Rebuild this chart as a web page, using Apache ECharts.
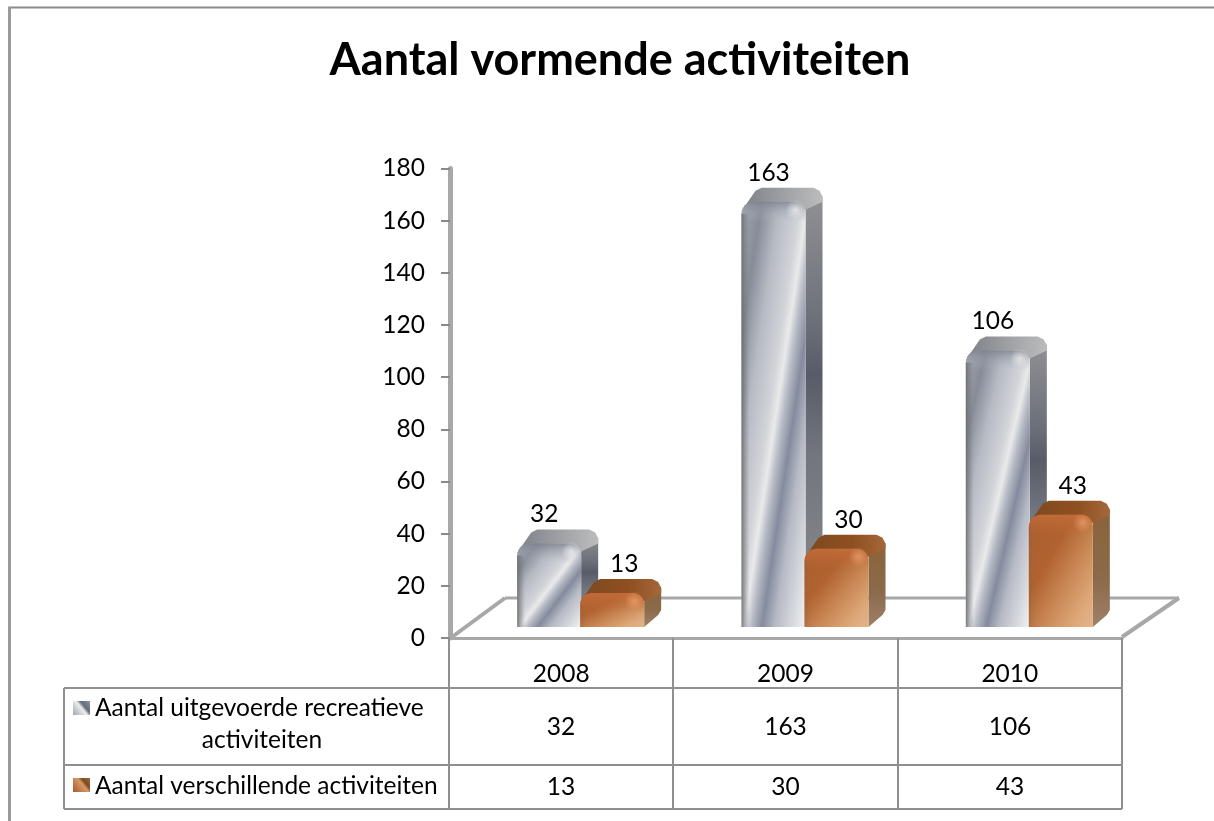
<!DOCTYPE html>
<html>
<head>
<meta charset="utf-8">
<style>
  html, body { margin: 0; padding: 0; background: #fff; }
  #chart { width: 1214px; height: 821px; }
</style>
<script src="https://cdn.jsdelivr.net/npm/echarts@6/dist/echarts.min.js"></script>
</head>
<body>
<div id="chart"></div>
<script>
const chartTitle = 'Aantal vormende activiteiten';
const years = ['2008', '2009', '2010'];
const yTicks = [0, 20, 40, 60, 80, 100, 120, 140, 160, 180];
const recreatief = [32, 163, 106];
const verschillend = [13, 30, 43];
const recreatiefName = ['Aantal uitgevoerde recreatieve', 'activiteiten'];
const verschillendName = 'Aantal verschillende activiteiten';

const FONT = 'Lato, Carlito, sans-serif';
const TEXT_SIZE = 24.5;
const LINE = '#8f8f8f';
const AXIS = '#a8a8a8';
const { LinearGradient, RadialGradient } = echarts.graphic;

const grid = { left: 449, right: 1122, top: 168.5, bottom: 638 };
const table = { left: 64, row0: 688, row1: 765, row2: 809, cols: [449, 673, 898, 1122] };

const steel = {
  front: [
    [0, '#a4a8b2'], [0.16, '#878c99'], [0.3, '#b6bac3'], [0.46, '#d2d4d9'], [0.52, '#e9eaea'],
    [0.58, '#b6bac4'], [0.66, '#858b9e'], [0.76, '#b6bac5'], [0.9, '#d8dadf'], [1, '#f2f2f3'],
  ],
  side: [[0, '#929294'], [0.3, '#6c707a'], [0.42, '#575c68'], [0.6, '#72757e'], [1, '#8c8c8e']],
  top: ['#7d8088', '#a3a5a8', '#bcbcbc'],
  bevel: ['rgba(125,130,142,0.8)', 'rgba(180,185,196,0)'],
  edge: 'rgba(105,105,107,0.85)',
  spot: 'rgba(255,255,255,0.6)',
};
const copper = {
  front: [
    [0, '#ac5e2e'], [0.35, '#b0622f'], [0.6, '#c98755'], [0.85, '#dfa97a'], [1, '#e2b48c'],
  ],
  side: [[0, '#8a6238'], [0.6, '#8b6a4a'], [1, '#a08068']],
  top: ['#7b4a20', '#8f4f20', '#a4683a'],
  bevel: ['rgba(196,108,58,0.85)', 'rgba(190,105,55,0)'],
  edge: 'rgba(160,85,40,0.3)',
  spot: 'rgba(245,170,120,0.6)',
};

// front face outline: rounded on top, square at the foot
function faceOutline(x0, x1, yt, yb, r) {
  const pts = [[x0, yb]];
  for (let a = 0; a <= 6; a++) {
    const t = (a / 6) * Math.PI / 2;
    pts.push([x0 + r - r * Math.cos(t), yt + r - r * Math.sin(t)]);
  }
  for (let a = 6; a >= 0; a--) {
    const t = (a / 6) * Math.PI / 2;
    pts.push([x1 - r + r * Math.cos(t), yt + r - r * Math.sin(t)]);
  }
  pts.push([x1, yb]);
  return pts;
}

function barRenderer(look, centerShift, labelShift) {
  return function (params, api) {
    const idx = api.value(0);
    const val = api.value(1);
    const [cx, yVal] = api.coord([idx, val]);
    const [, yZero] = api.coord([idx, 0]);
    const halfW = 32;
    const depthX = 17;
    const depthY = 14;
    const x0 = cx + centerShift - halfW;
    const x1 = cx + centerShift + halfW;
    const yb = yZero - 11;
    const yt = yVal - 11;
    const yBack = yt - depthY;
    const w = x1 - x0;
    const h = yb - yt;
    const len = Math.sqrt(w * w + h * h);
    const nx = h / len;
    const ny = w / len;
    const ext = w * h / len;
    const mx = (x0 + x1) / 2;
    const my = (yt + yb) / 2;
    const r = Math.min(12, h / 3);
    return {
      type: 'group',
      children: [
        {
          type: 'polygon',
          shape: { points: [
            [x1, yb], [x1 + depthX - 3, yb - depthY + 2], [x1 + depthX, yb - depthY - 3],
            [x1 + depthX, yBack + 9], [x1 + depthX - 4, yBack + 3], [x1, yt + 2],
          ] },
          style: { fill: new LinearGradient(0, 0, 0, 1, look.side.map(s => ({ offset: s[0], color: s[1] }))) },
        },
        {
          type: 'polygon',
          shape: { points: [
            [x0, yt + 10], [x0 + 3, yt + 5], [x0 + depthX - 3, yBack + 3], [x0 + depthX + 3, yBack],
            [x1 + depthX - 9, yBack], [x1 + depthX - 3, yBack + 3], [x1 + depthX, yBack + 9],
            [x1 + depthX, yBack + 14], [x1, yt + 8],
          ] },
          style: { fill: new LinearGradient(0, 0, 1, 0, [
            { offset: 0, color: look.top[0] }, { offset: 0.6, color: look.top[1] }, { offset: 1, color: look.top[2] },
          ]) },
        },
        {
          type: 'polygon',
          shape: { points: faceOutline(x0, x1, yt, yb, r) },
          style: {
            fill: new LinearGradient(
              mx - nx * ext, my - ny * ext, mx + nx * ext, my + ny * ext,
              look.front.map(s => ({ offset: s[0], color: s[1] })), true
            ),
          },
        },
        {
          type: 'polygon',
          shape: { points: faceOutline(x0, x1, yt, yt + Math.min(20, h), r) },
          style: { fill: new LinearGradient(0, 0, 0, 1, [
            { offset: 0, color: look.bevel[0] }, { offset: 1, color: look.bevel[1] },
          ]) },
        },
        {
          type: 'rect',
          shape: { x: x0, y: yt + r, width: 8, height: yb - yt - r },
          style: { fill: new LinearGradient(0, 0, 1, 0, [
            { offset: 0, color: look.edge }, { offset: 1, color: 'rgba(128,128,130,0)' },
          ]) },
        },
        {
          type: 'circle',
          shape: { cx: x1 - 10, cy: yt + 8, r: 10 },
          style: { fill: new RadialGradient(0.5, 0.5, 0.5, [
            { offset: 0, color: look.spot }, { offset: 1, color: look.spot.replace(/[\d.]+\)$/, '0)') },
          ]) },
        },
        {
          type: 'text',
          style: {
            text: String(val), x: cx + centerShift + labelShift, y: yBack - 15,
            align: 'center', verticalAlign: 'middle', font: TEXT_SIZE + 'px ' + FONT, fill: '#000',
          },
        },
      ],
    };
  };
}

function vLine(x, y1, y2, color, width) {
  return { type: 'line', shape: { x1: x, y1: y1, x2: x, y2: y2 }, style: { stroke: color || LINE, lineWidth: width || 2 } };
}
function hLine(x1, x2, y, color, width) {
  return { type: 'line', shape: { x1: x1, y1: y, x2: x2, y2: y }, style: { stroke: color || LINE, lineWidth: width || 2 } };
}
function cellText(text, x, y, align) {
  return { type: 'text', style: { text: text, x: x, y: y, align: align || 'center', verticalAlign: 'middle', font: TEXT_SIZE + 'px ' + FONT, fill: '#000' } };
}
function swatch(y, stops) {
  return {
    type: 'rect', shape: { x: 73, y: y, width: 17, height: 14 },
    style: { fill: new LinearGradient(0, 1, 1, 0, stops) },
  };
}

const colCenter = i => (table.cols[i] + table.cols[i + 1]) / 2;

const graphics = [
  // outer frame of the picture
  hLine(8, 1214, 7.5, '#8a8a8a', 2),
  vLine(9.5, 7, 821, '#9a9a9a', 3),
  // floor of the 3D plot
  hLine(505, 1179, 598, AXIS, 3),
  { type: 'line', shape: { x1: 452, y1: 637, x2: 505, y2: 598 }, style: { stroke: AXIS, lineWidth: 4 } },
  { type: 'line', shape: { x1: 1122, y1: 637, x2: 1179, y2: 598 }, style: { stroke: AXIS, lineWidth: 4 } },
  // data table
  hLine(table.left, table.cols[3], table.row0),
  hLine(table.left, table.cols[3], table.row1),
  hLine(table.left, table.cols[3], table.row2),
  vLine(table.left, table.row0, table.row2),
  ...table.cols.map(x => vLine(x, grid.bottom, table.row2)),
  swatch(701, [
    { offset: 0, color: '#9ea4b2' }, { offset: 0.5, color: '#eceded' }, { offset: 0.65, color: '#666c7c' }, { offset: 1, color: '#8f939c' },
  ]),
  swatch(778, [
    { offset: 0, color: '#a8592c' }, { offset: 0.55, color: '#d69a66' }, { offset: 0.7, color: '#7c4a22' }, { offset: 1, color: '#a4683a' },
  ]),
  cellText(recreatiefName[0], 95, 708, 'left'),
  cellText(recreatiefName[1], 262, 740),
  cellText(verschillendName, 95, 786, 'left'),
  ...recreatief.map((v, i) => cellText(String(v), colCenter(i), 727)),
  ...verschillend.map((v, i) => cellText(String(v), colCenter(i), 787)),
];

const chart = echarts.init(document.getElementById('chart'), null, { renderer: 'canvas' });
chart.setOption({
  animation: false,
  backgroundColor: '#fff',
  title: {
    text: chartTitle,
    left: 615,
    top: 33,
    textAlign: 'center',
    textStyle: { fontFamily: FONT, fontSize: 45, fontWeight: 'bold', color: '#000' },
  },
  grid: {
    left: grid.left,
    top: grid.top,
    width: grid.right - grid.left,
    height: grid.bottom - grid.top,
  },
  xAxis: {
    type: 'category',
    data: years,
    axisTick: { show: false },
    axisLine: { lineStyle: { color: AXIS, width: 3 } },
    axisLabel: { fontFamily: FONT, fontSize: TEXT_SIZE, color: '#000', margin: 24 },
  },
  yAxis: {
    type: 'value',
    min: yTicks[0],
    max: yTicks[yTicks.length - 1],
    interval: yTicks[1] - yTicks[0],
    offset: -1,
    splitLine: { show: false },
    axisLine: { show: true, lineStyle: { color: AXIS, width: 5 } },
    axisTick: { show: true, length: 9, lineStyle: { color: '#8a8a8a', width: 2 } },
    axisLabel: { fontFamily: FONT, fontSize: TEXT_SIZE, color: '#000', margin: 25 },
  },
  series: [
    {
      name: recreatiefName.join(' '),
      type: 'custom',
      encode: { x: 0, y: 1 },
      data: recreatief.map((v, i) => [i, v]),
      renderItem: barRenderer(steel, -12, -5),
      clip: false,
      z: 3,
    },
    {
      name: verschillendName,
      type: 'custom',
      encode: { x: 0, y: 1 },
      data: verschillend.map((v, i) => [i, v]),
      renderItem: barRenderer(copper, 51, 12),
      clip: false,
      z: 4,
    },
  ],
  graphic: { elements: graphics.map(g => Object.assign({ z: 2 }, g)) },
});
</script>
</body>
</html>
